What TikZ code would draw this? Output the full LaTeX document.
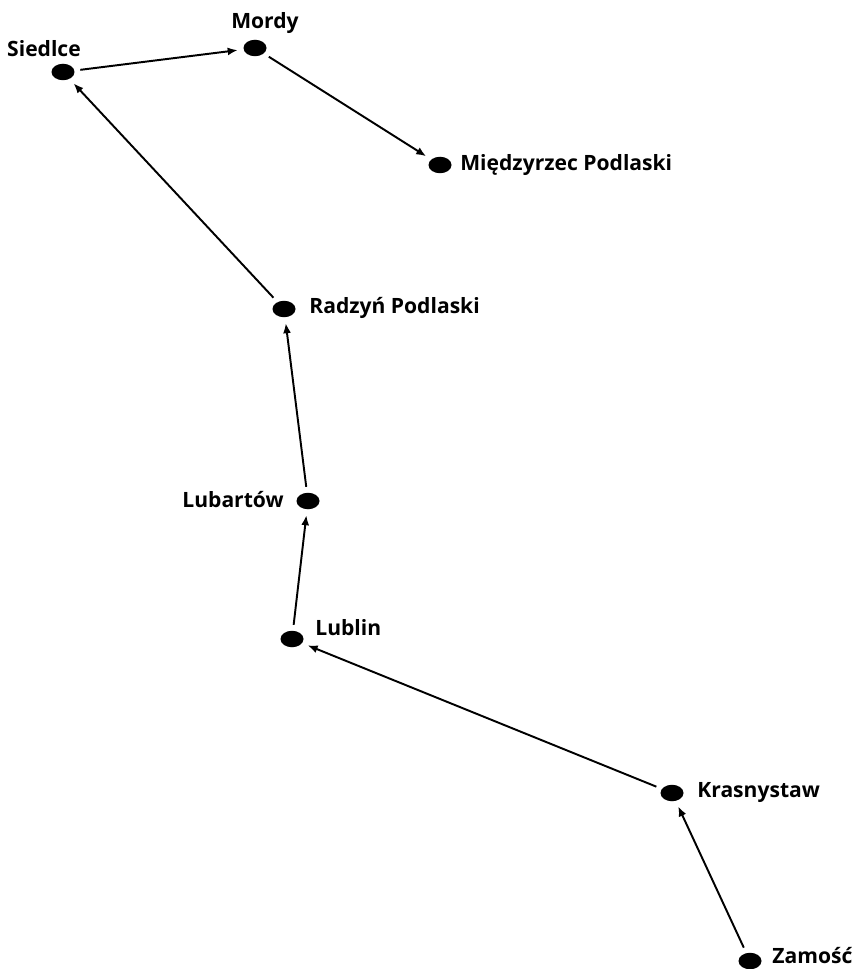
\documentclass[tikz,border=0pt]{standalone}
\usepackage{fontspec}
\setmainfont{Open Sans}
\usetikzlibrary{shapes.geometric,positioning,arrows.meta}
\tikzset{
  town/.style={ellipse, fill=black, inner sep=0pt, minimum width=0.46cm,
               minimum height=0.33cm, outer sep=0.12cm},
  townname/.style={font=\bfseries\fontsize{12}{14}\selectfont, inner sep=0pt},
  route/.style={-{Latex[length=2mm,width=1.6mm]}, line width=1.1pt}
}
\begin{document}
\begin{tikzpicture}[x=0.02cm,y=-0.02cm]
    \useasboundingbox (0,0) rectangle (863,969);
    % towns
    \node[town] (siedlce)  at (63,72)  {};
    \node[town] (mordy)    at (255,48) {};
    \node[town] (miedzy)   at (440,165) {};
    \node[town] (radzyn)   at (284,309) {};
    \node[town] (lubartow) at (308,501) {};
    \node[town] (lublin)   at (292,639) {};
    \node[town] (krasny)   at (672,793) {};
    \node[town] (zamosc)   at (750,961) {};
    % names
    \node[townname] (siedlce-l)  at (44,49)  {Siedlce};
    \node[townname] (mordy-l)    at (265,23) {Mordy};
    \node[townname, anchor=west] (miedzy-l)   at (460,165) {Międzyrzec Podlaski};
    \node[townname, anchor=west] (radzyn-l)   at (309,308) {Radzyń Podlaski};
    \node[townname, anchor=east] (lubartow-l) at (284,500) {Lubartów};
    \node[townname, anchor=west] (lublin-l)   at (315,628) {Lublin};
    \node[townname, anchor=west] (krasny-l)   at (697,792) {Krasnystaw};
    \node[townname, anchor=west] (zamosc-l)   at (772,956) {Zamość};
    % route
    \draw[route] (zamosc) -- (krasny);
    \draw[route] (krasny) -- (lublin);
    \draw[route] (lublin) -- (lubartow);
    \draw[route] (lubartow) -- (radzyn);
    \draw[route] (radzyn) -- (siedlce);
    \draw[route] (siedlce) -- (mordy);
    \draw[route] (mordy) -- (miedzy);
\end{tikzpicture}
\end{document}
